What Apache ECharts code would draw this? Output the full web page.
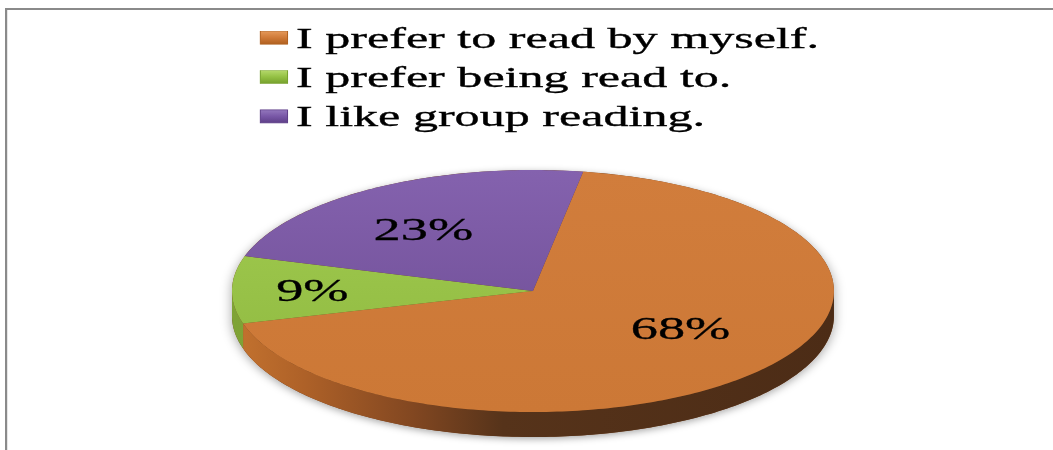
<!DOCTYPE html>
<html>
<head>
<meta charset="utf-8">
<script src="https://cdn.jsdelivr.net/npm/echarts@6/dist/echarts.min.js"></script>
<style>
  html, body { margin: 0; padding: 0; background: #ffffff; }
  #wrap { width: 1053px; height: 450px; overflow: hidden; position: relative; background: #fff; }
  /* the original picture is stretched horizontally; reproduce that stretch */
  #chart { width: 620px; height: 450px; transform: scaleX(1.698387); transform-origin: 0 0; }
</style>
</head>
<body>
<div id="wrap"><div id="chart"></div></div>
<script>
// ---- data ----
const categories = ['I prefer to read by myself.', 'I prefer being read to.', 'I like group reading.'];
const values = [68, 9, 23];
const percentLabels = ['68%', '9%', '23%'];

// ---- styles ----
const topColors = [
  ['#D17D3C', '#CC7836'],
  ['#A2CC50', '#8DB73F'],
  ['#8462AE', '#6A4990']
];
const sideColors = [
  [[0, '#C4732F'], [0.12, '#AE6128'], [0.3, '#824721'], [0.45, '#56331A'], [1, '#4C2C16']],
  [[0, '#7FA336'], [1, '#6A8C2A']],
  [[0, '#5E4080'], [1, '#4A3266']]
];
const legendColors = [
  ['#E5995A', '#CF7A38', '#B0601F'],
  ['#B4D86A', '#93C043', '#76A02D'],
  ['#9377BD', '#7857A6', '#5E3F88']
];
const serifFont = '"Liberation Serif", "Times New Roman", "DejaVu Serif", serif';

// ---- geometry (in unstretched px) ----
const CX = 313.8, CY = 291, RX = 177.2, RY = 121, DEPTH = 25;
const START_ANGLE = -80.4; // degrees, clockwise from +x axis (screen)

const total = values.reduce((a, b) => a + b, 0);

function pt(t, dy) {
  const r = t * Math.PI / 180;
  return [CX + RX * Math.cos(r), CY + RY * Math.sin(r) + (dy || 0)];
}
function arc(from, to, dy) {
  const n = Math.max(2, Math.ceil(Math.abs(to - from)));
  const out = [];
  for (let k = 0; k <= n; k++) out.push(pt(from + (to - from) * k / n, dy));
  return out;
}

function makeRender(idx) {
  return function (params, api) {
    const v = api.value(0);
    let before = 0;
    for (let i = 0; i < idx; i++) before += values[i];
    const a0 = START_ANGLE + before / total * 360;
    const a1 = a0 + v / total * 360;
    const sweep = a1 - a0;
    const children = [];

    if (idx === 0) {
      // soft shadow silhouette under the whole pie
      const sil = arc(0, 180, DEPTH).concat(arc(180, 360, 0));
      children.push({
        type: 'polygon',
        shape: { points: sil },
        style: { fill: '#6b3d1d', shadowBlur: 7, shadowColor: 'rgba(0,0,0,0.35)', shadowOffsetY: 2 }
      });
    }

    // visible side walls (front half of ellipse)
    for (let k = -1; k <= 2; k++) {
      const b0 = Math.max(a0, 360 * k), b1 = Math.min(a1, 360 * k + 180);
      if (b1 > b0) {
        const pts = arc(b0, b1, 0).concat(arc(b1, b0, DEPTH));
        children.push({
          type: 'polygon',
          shape: { points: pts },
          style: {
            fill: new echarts.graphic.LinearGradient(CX - RX, 0, CX + RX, 0,
              sideColors[idx].map(s => ({ offset: s[0], color: s[1] })), true)
          }
        });
      }
    }

    // top face
    const topPts = [[CX, CY]].concat(arc(a0, a1, 0));
    children.push({
      type: 'polygon',
      shape: { points: topPts },
      style: {
        fill: new echarts.graphic.LinearGradient(0, CY - RY, 0, CY + RY, [
          { offset: 0, color: topColors[idx][0] },
          { offset: 1, color: topColors[idx][1] }
        ], true)
      }
    });

    // percentage label (best-fit style: thin slices push labels outward, tilt pulls front labels in)
    const mid = (a0 + a1) / 2 * Math.PI / 180;
    const fx = 0.66 + 0.1 * (1 - Math.min(1, sweep / 120));
    const fy = 0.52 - 0.09 * Math.sin(mid);
    children.push({
      type: 'text',
      x: CX + fx * RX * Math.cos(mid),
      y: CY + fy * RY * Math.sin(mid),
      style: {
        text: percentLabels[idx],
        fill: '#000',
        font: '32px ' + serifFont,
        align: 'center',
        verticalAlign: 'middle',
        stroke: '#000',
        lineWidth: 0.3
      }
    });

    return { type: 'group', children: children };
  };
}

const chart = echarts.init(document.getElementById('chart'), null, { renderer: 'svg' });

const series = categories.map((name, i) => ({
  type: 'custom',
  name: name,
  coordinateSystem: 'none',
  renderItem: makeRender(i),
  itemStyle: {
    color: new echarts.graphic.LinearGradient(0, 0, 0, 1, [
      { offset: 0, color: legendColors[i][0] },
      { offset: 0.5, color: legendColors[i][1] },
      { offset: 1, color: legendColors[i][2] }
    ])
  },
  data: [[values[i]]],
  silent: true
}));

chart.setOption({
  animation: false,
  backgroundColor: '#ffffff',
  legend: {
    orient: 'vertical',
    left: 153,
    top: 22.5,
    padding: 0,
    itemWidth: 16,
    itemHeight: 13,
    itemGap: 9,
    icon: 'rect',
    selectedMode: false,
    data: categories.map((c, i) => ({
      name: c,
      itemStyle: { borderColor: legendColors[i][2], borderWidth: 0.6 }
    })),
    textStyle: {
      fontFamily: serifFont, fontSize: 29.5, color: '#000', lineHeight: 29.5,
      textBorderColor: '#000', textBorderWidth: 0.35
    }
  },
  graphic: [
    { type: 'line', shape: { x1: 3.5, y1: 9, x2: 620, y2: 9 }, style: { stroke: '#8a8a8a', lineWidth: 2 } },
    { type: 'line', shape: { x1: 3.6, y1: 8, x2: 3.6, y2: 450 }, style: { stroke: '#8a8a8a', lineWidth: 1.3 } }
  ],
  series: series
});
</script>
</body>
</html>
